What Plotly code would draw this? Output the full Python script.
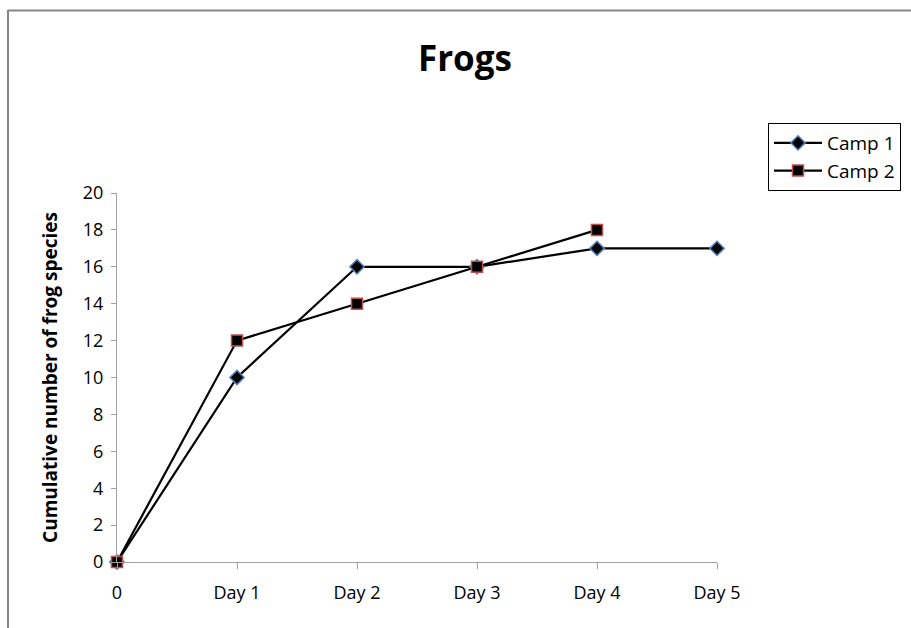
import plotly.graph_objects as go

# Frog survey: cumulative species counts per day
days = ["0", "Day 1", "Day 2", "Day 3", "Day 4", "Day 5"]
camp1 = [0, 10, 16, 16, 17, 17]
camp2 = [0, 12, 14, 16, 18]

FONT = "Open Sans, Liberation Sans, sans-serif"
W, H = 911, 628

fig = go.Figure()
fig.add_trace(go.Scatter(
    x=list(range(len(camp1))), y=camp1, name="Camp 1", mode="lines+markers",
    line=dict(color="black", width=2.2),
    marker=dict(symbol="diamond", size=11, color="black",
                line=dict(color="#4f81bd", width=1.5)),
    cliponaxis=False,
))
fig.add_trace(go.Scatter(
    x=list(range(len(camp2))), y=camp2, name="Camp 2", mode="lines+markers",
    line=dict(color="black", width=2.2),
    marker=dict(symbol="square", size=11, color="black",
                line=dict(color="#c0504d", width=1.5)),
    cliponaxis=False,
))

fig.update_layout(
    width=W, height=H,
    margin=dict(l=117, r=W - 717, t=193, b=H - 562, autoexpand=False),
    paper_bgcolor="white", plot_bgcolor="white",
    font=dict(family=FONT, size=18, color="black"),
    showlegend=True,
    legend=dict(
        x=(768 - 117) / 600, y=1 + (193 - 123) / 369,
        xanchor="left", yanchor="top",
        bordercolor="black", borderwidth=1, bgcolor="white",
        font=dict(size=19), tracegroupgap=0, itemwidth=48,
    ),
    annotations=[
        dict(text="<b>Frogs</b>", xref="paper", yref="paper",
             x=(465 - 117) / 600, y=1 + (193 - 57) / 369,
             xanchor="center", yanchor="middle", showarrow=False,
             font=dict(size=35)),
    ],
    shapes=[
        dict(type="line", xref="paper", yref="paper",
             x0=(8 - 117) / 600, x1=(W - 117) / 600,
             y0=1 + (193 - 10.5) / 369, y1=1 + (193 - 10.5) / 369,
             line=dict(color="#868686", width=2)),
        dict(type="line", xref="paper", yref="paper",
             x0=(8 - 117) / 600, x1=(8 - 117) / 600,
             y0=1 + (193 - 10) / 369, y1=-(H - 562) / 369,
             line=dict(color="#868686", width=2)),
    ],
)

fig.update_xaxes(
    range=[0, 5], tickmode="array", tickvals=list(range(len(days))), ticktext=days,
    showgrid=False, zeroline=False, showline=True, linecolor="#a0a0a0", linewidth=1,
    ticks="outside", ticklen=6, tickcolor="#a0a0a0",
    tickfont=dict(size=18), ticklabelstandoff=8,
)
fig.update_yaxes(
    range=[0, 20], dtick=2, showgrid=False, zeroline=False,
    showline=True, linecolor="#a0a0a0", linewidth=1,
    ticks="outside", ticklen=5, tickcolor="#a0a0a0",
    tickfont=dict(size=18), ticklabelstandoff=4,
    title=dict(text="<b>Cumulative number of frog species</b>",
               font=dict(size=19), standoff=20),
)

fig.write_html("out.html")
